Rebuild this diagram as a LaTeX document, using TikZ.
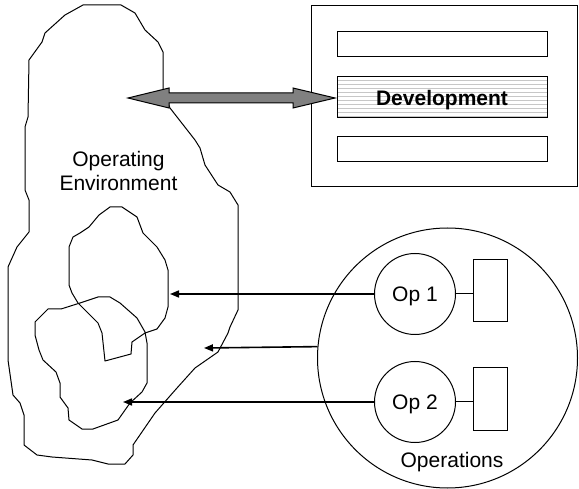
\documentclass[tikz,border=0pt]{standalone}
\usepackage{fontspec}
\setmainfont{Liberation Sans}
\usetikzlibrary{arrows.meta,calc}
\begin{document}
\begin{tikzpicture}[x=1pt,y=-1pt,
  txt/.style={font=\fontsize{21}{24}\selectfont},
  outline/.style={draw=black,line width=1pt,line join=round},
  opcircle/.style={circle,draw,line width=1pt,minimum size=81pt,inner sep=0pt,txt,text depth=0pt},
  store/.style={rectangle,draw,line width=1pt,minimum width=34pt,minimum height=62pt,inner sep=0pt},
  bar/.style={rectangle,draw,line width=1pt,minimum width=210pt,inner sep=0pt},
  flow/.style={line width=1.6pt,-{Triangle[length=9pt,width=7pt]}},
  wide/.style={draw=black,line width=1pt,fill=black!50,line join=miter}
]
\useasboundingbox (0,0) rectangle (579,489);

% operating environment (outer region)
\draw[outline] (83,5) -- (121,5) -- (135,13) -- (145,30) -- (158,42) -- (163,52)
  -- (163,90) -- (170,108) -- (195,140) -- (200,148) -- (205,165) -- (218,185)
  -- (230,192) -- (238,205) -- (238,310) -- (230,327) -- (228,333) -- (218,352)
  -- (195,368) -- (177,388) -- (155,413) -- (133,445) -- (133,455) -- (125,464)
  -- (108,464) -- (92,460) -- (52,457) -- (37,455) -- (24,445) -- (24,415)
  -- (20,403) -- (13,395) -- (8,360) -- (8,267) -- (17,247) -- (29,232)
  -- (29,200) -- (25,190) -- (25,127) -- (28,117) -- (29,60) -- (42,42)
  -- (45,33) -- (65,15) -- cycle;

% upper sub-region
\draw[outline] (110,207) -- (122,207) -- (137,217) -- (143,233) -- (157,247)
  -- (165,260) -- (168,270) -- (168,307) -- (165,318) -- (157,329) -- (145,333)
  -- (132,342) -- (131,354) -- (105,361) -- (102,333) -- (98,323) -- (88,313)
  -- (78,303) -- (72,293) -- (69,285) -- (69,247) -- (73,237) -- (80,233)
  -- (89,227) -- (99,215) -- cycle;

% lower sub-region
\draw[outline] (98,297) -- (110,297) -- (120,303) -- (137,318) -- (145,332)
  -- (147,343) -- (147,383) -- (142,392) -- (130,403) -- (118,420) -- (93,429)
  -- (82,429) -- (69,420) -- (68,408) -- (60,397) -- (60,383) -- (56,372)
  -- (43,360) -- (39,350) -- (35,335) -- (35,322) -- (48,309) -- (61,309)
  -- (80,303) -- cycle;

\node[txt,align=center,inner sep=0pt] (env) at (118.5,171) {Operating\\Environment};

% development block
\node[rectangle,draw,line width=1pt,minimum width=266pt,minimum height=181pt,inner sep=0pt] (devframe) at (444,96.5) {};
\node[bar,minimum height=25pt] (bartop) at (442,44.5) {};
\foreach \yy in {80,84,...,116}
  \draw[black!22,line width=0.8pt] (337,\yy) -- (547,\yy);
\node[bar,minimum height=41pt,txt,font=\fontsize{21}{24}\selectfont\bfseries,text depth=0pt] (dev) at (442,97.5) {Development};
\node[bar,minimum height=25pt] (barbot) at (442,149.5) {};

% two-way link between environment and development
\coordinate (dl) at (128,98);
\coordinate (dr) at (335,98);
\draw[wide] (dl) -- ++(41,-10) -- ++(0,5) -- ($(dr)+(-42,-5)$) -- ++(0,-5)
  -- (dr) -- ++(-42,10) -- ++(0,-5) -- ($(dl)+(41,5)$) -- ++(0,5) -- cycle;

% operations
\node[circle,draw,line width=1pt,minimum size=260pt,inner sep=0pt] (ops) at (447.5,358) {};
\node[txt,inner sep=0pt,text depth=0pt] (opslabel) at (452,459.4) {Operations};
\node[opcircle] (op1) at (415,294) {Op 1};
\node[opcircle] (op2) at (415,402) {Op 2};
\node[store] (st1) at (490,291) {};
\node[store] (st2) at (490,399) {};
\draw[line width=1pt] (op1.east) -- (op1.east -| st1.west);
\draw[line width=1pt] (op2.east) -- (op2.east -| st2.west);

% effects on the environment
\coordinate (t1) at (170,294);
\coordinate (t2) at (204,348);
\coordinate (t3) at (123,402);
\draw[flow] (op1.west) -- (t1);
\draw[flow] (ops.175.6) -- (t2);
\draw[flow] (op2.west) -- (t3);
\end{tikzpicture}
\end{document}
